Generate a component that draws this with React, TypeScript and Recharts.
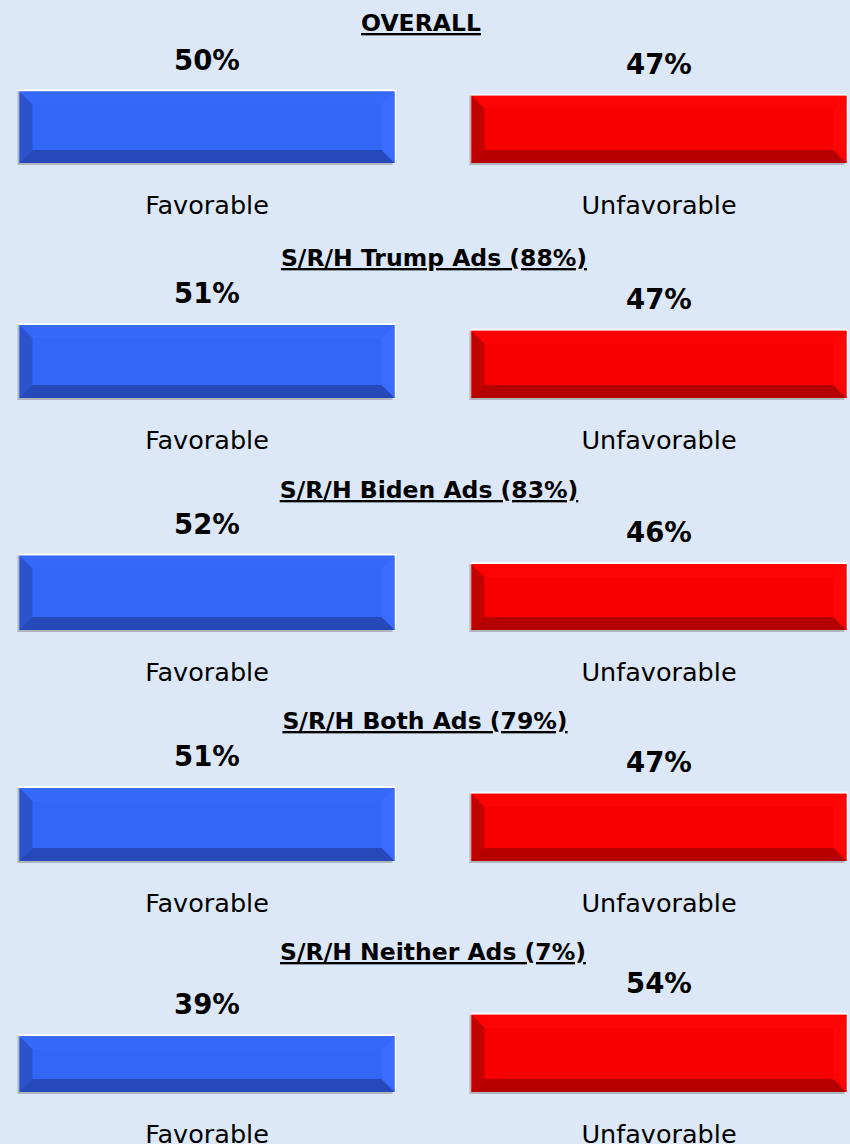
import React from "react";
import { BarChart, Bar, XAxis, YAxis, LabelList, Customized } from "recharts";

// ---- data ----
const CATEGORIES = ["Favorable", "Unfavorable"];
const PANEL_TITLES = [
  "OVERALL",
  "S/R/H Trump Ads (88%)",
  "S/R/H Biden Ads (83%)",
  "S/R/H Both Ads (79%)",
  "S/R/H Neither Ads (7%)",
];
const FAVORABLE = [50, 51, 52, 51, 39];
const UNFAVORABLE = [47, 47, 46, 47, 54];

// ---- layout / style ----
const PANEL_BASELINES = [163, 398, 630, 861, 1092];
const TITLE_CENTERS = [421, 434, 429, 425, 433];
const FONT = "'DejaVu Sans', sans-serif";
const BG = "#DCE8F7";
const PLOT_H = 143;
const TOP_M = 30;
const AXIS_H = 60;
const X_SHIFT = -19;
const CHART_W = 904;

const PALETTE = [
  { face: "#3366F4", top: "#3669F8", left: "#2B53CC", right: "#3A6DFF", bottom: "#2549B8" },
  { face: "#F80000", top: "#FC0404", left: "#C20000", right: "#FF0404", bottom: "#B60000" },
];

const BevelBar = (props: any) => {
  const { x, y, width: w, height: h, index } = props;
  const c = PALETTE[index % PALETTE.length];
  const b = 13;
  return (
    <g>
      <rect x={x - 2} y={y} width={w} height={h + 2} fill="#AEB5BE" />
      <rect x={x} y={y - 2} width={w + 1.5} height={h} fill="#FFFFFF" />
      <rect x={x} y={y} width={w} height={h} fill={c.face} />
      <polygon points={`${x},${y} ${x + w},${y} ${x + w - b},${y + b} ${x + b},${y + b}`} fill={c.top} />
      <polygon points={`${x},${y} ${x + b},${y + b} ${x + b},${y + h - b} ${x},${y + h}`} fill={c.left} />
      <polygon points={`${x + w},${y} ${x + w},${y + h} ${x + w - b},${y + h - b} ${x + w - b},${y + b}`} fill={c.right} />
      <polygon points={`${x},${y + h} ${x + w},${y + h} ${x + w - b},${y + h - b} ${x + b},${y + h - b}`} fill={c.bottom} />
    </g>
  );
};

const Panel = ({ i }: { i: number }) => {
  const data = CATEGORIES.map((name, k) => ({
    name,
    value: k === 0 ? FAVORABLE[i] : UNFAVORABLE[i],
  }));
  const top = PANEL_BASELINES[i] - PLOT_H - TOP_M;
  const titleX = TITLE_CENTERS[i] - X_SHIFT;
  const titleY = TOP_M + PLOT_H - 132;
  return (
    <div style={{ position: "absolute", left: X_SHIFT, top }}>
      <BarChart
        width={CHART_W}
        height={TOP_M + PLOT_H + AXIS_H}
        data={data}
        margin={{ top: TOP_M, right: 0, bottom: 0, left: 0 }}
        barCategoryGap={38.5}
      >
        <YAxis hide domain={[0, 100]} />
        <XAxis
          dataKey="name"
          height={AXIS_H}
          axisLine={false}
          tickLine={false}
          tickSize={0}
          tickMargin={32.5}
          interval={0}
          tick={{ fontSize: 25.5, fill: "#000000", fontFamily: FONT }}
        />
        <Bar dataKey="value" isAnimationActive={false} shape={BevelBar}>
          <LabelList
            dataKey="value"
            position="top"
            offset={22}
            formatter={(v: any) => `${v}%`}
            style={{ fontSize: 27.5, fontWeight: "bold", fill: "#000000", fontFamily: FONT }}
          />
        </Bar>
        <Customized
          component={() => (
            <text
              x={titleX}
              y={titleY}
              textAnchor="middle"
              style={{
                fontSize: 23.5,
                fontWeight: "bold",
                fontFamily: FONT,
                fill: "#000000",
                textDecoration: "underline",
              }}
            >
              {PANEL_TITLES[i]}
            </text>
          )}
        />
      </BarChart>
    </div>
  );
}

export default function App() {
  return (
    <div
      style={{
        position: "absolute",
        left: 0,
        top: 0,
        width: 850,
        height: 1144,
        overflow: "hidden",
        background: BG,
      }}
    >
      {PANEL_TITLES.map((_, i) => (
        <Panel key={i} i={i} />
      ))}
    </div>
  );
}
